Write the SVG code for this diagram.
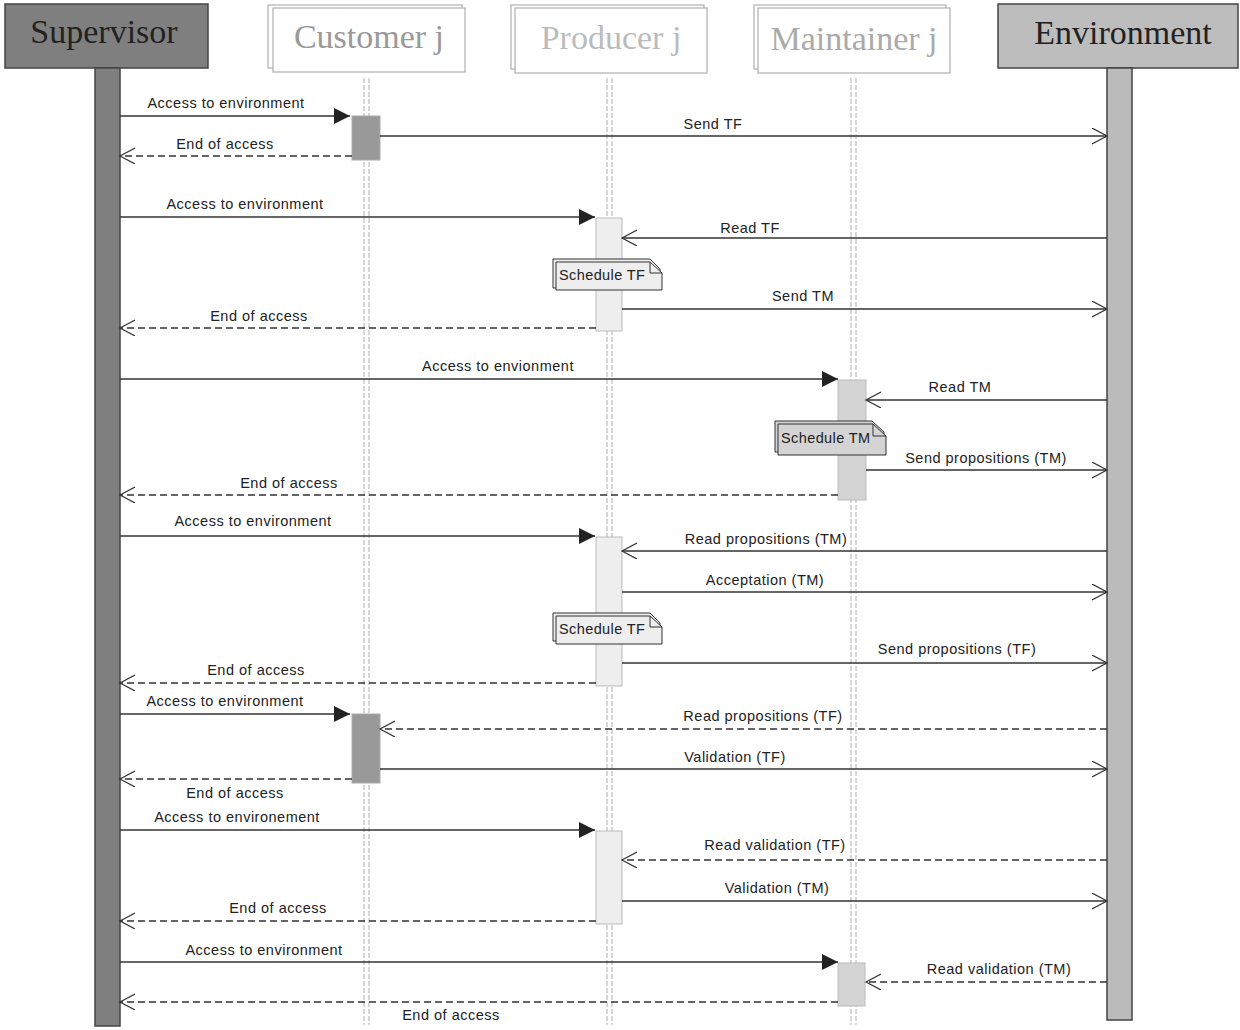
<svg xmlns="http://www.w3.org/2000/svg" width="1240" height="1030" viewBox="0 0 1240 1030">
<style>
.hdr{font-family:"Liberation Serif","Times New Roman",serif;font-size:34px;text-anchor:middle}
.lbl{font-family:"Liberation Sans",Arial,sans-serif;font-size:14.5px;fill:#222;text-anchor:middle;letter-spacing:0.5px}
.note{font-family:"Liberation Sans",Arial,sans-serif;font-size:14.5px;fill:#222;letter-spacing:0.4px}
.msg{stroke:#333;stroke-width:1.3;fill:none}
.ret{stroke:#333;stroke-width:1.3;fill:none;stroke-dasharray:7,4}
.life{stroke:#bdbdbd;stroke-width:1.2;stroke-dasharray:5,2}
.stk{fill:#fff;stroke:#b0b0b0;stroke-width:1.2}
</style>
<defs>
<marker id="sync" markerUnits="userSpaceOnUse" markerWidth="18" markerHeight="18" refX="16" refY="8" orient="auto"><path d="M0,0 L16,8 L0,16 z" fill="#222"/></marker>
<marker id="open" markerUnits="userSpaceOnUse" markerWidth="18" markerHeight="18" refX="15" refY="8" orient="auto"><path d="M0,0 L15,8 L0,16" fill="none" stroke="#333" stroke-width="1.2"/></marker>
</defs>

<g id="lifelines">
<line class="life" x1="364" y1="78" x2="364" y2="1025"/><line class="life" x1="369" y1="78" x2="369" y2="1025"/>
<line class="life" x1="607" y1="78" x2="607" y2="1025"/><line class="life" x1="612" y1="78" x2="612" y2="1025"/>
<line class="life" x1="851" y1="78" x2="851" y2="1025"/><line class="life" x1="856" y1="78" x2="856" y2="1025"/>
</g>

<g id="supervisor">
<rect x="5" y="4" width="203" height="64" fill="#7f7f7f" stroke="#444" stroke-width="1.5"/>
<text class="hdr" x="104" y="43" fill="#222">Supervisor</text>
<rect x="95" y="68" width="25" height="958" fill="#7f7f7f" stroke="#444" stroke-width="1.5"/>
</g>
<g id="customer">
<rect class="stk" x="268" y="5" width="194" height="63"/>
<rect class="stk" x="273" y="8" width="192" height="64"/>
<text class="hdr" x="369" y="48" fill="#999">Customer j</text>
</g>
<g id="producer">
<rect class="stk" x="511" y="5" width="193" height="64"/>
<rect class="stk" x="515" y="8" width="192" height="65"/>
<text class="hdr" x="611" y="49" fill="#bbb">Producer j</text>
</g>
<g id="maintainer">
<rect class="stk" x="754" y="5" width="192" height="64"/>
<rect class="stk" x="758" y="8" width="192" height="65"/>
<text class="hdr" x="854" y="50" fill="#aaa">Maintainer j</text>
</g>
<g id="environment">
<rect x="998" y="4" width="240" height="64" fill="#bdbdbd" stroke="#444" stroke-width="1.5"/>
<text class="hdr" x="1123" y="44" fill="#222">Environment</text>
<rect x="1107" y="68" width="25" height="952" fill="#bbbbbb" stroke="#444" stroke-width="1.5"/>
</g>

<g id="activations">
<rect x="352" y="116" width="28" height="44" fill="#999" stroke="#aaa"/>
<rect x="596" y="218" width="26" height="113" fill="#eee" stroke="#bbb"/>
<rect x="838" y="380" width="28" height="120" fill="#d4d4d4" stroke="#bbb"/>
<rect x="596" y="537" width="26" height="149" fill="#eee" stroke="#bbb"/>
<rect x="352" y="714" width="28" height="69" fill="#999" stroke="#aaa"/>
<rect x="596" y="831" width="26" height="93" fill="#eee" stroke="#bbb"/>
<rect x="838" y="963" width="27" height="43" fill="#d4d4d4" stroke="#bbb"/>
</g>

<g id="notes">
<g id="note1">
<path d="M553,259 H650 L660,269 V288 H553 z" fill="#eee" stroke="#333"/>
<path d="M556,262 H650 L662,273 V290 H556 z" fill="#eee" stroke="#333"/>
<path d="M650,262 V273 H662" fill="none" stroke="#333"/>
<text class="note" x="559" y="280">Schedule TF</text>
</g>
<g id="note2">
<path d="M775,421 H872 L884,432 V452 H775 z" fill="#d4d4d4" stroke="#333"/>
<path d="M778,424 H873 L886,436 V455 H778 z" fill="#d4d4d4" stroke="#333"/>
<path d="M873,424 V436 H886" fill="none" stroke="#333"/>
<text class="note" x="781" y="443">Schedule TM</text>
</g>
<g id="note3">
<path d="M553,613 H650 L660,623 V641 H553 z" fill="#eee" stroke="#333"/>
<path d="M556,616 H650 L662,627 V644 H556 z" fill="#eee" stroke="#333"/>
<path d="M650,616 V627 H662" fill="none" stroke="#333"/>
<text class="note" x="559" y="634">Schedule TF</text>
</g>
</g>

<g id="connectors">
<line class="msg" x1="120" y1="116" x2="350" y2="116" marker-end="url(#sync)"/>
<line class="msg" x1="380" y1="136" x2="1107" y2="136" marker-end="url(#open)"/>
<line class="ret" x1="352" y1="156" x2="120" y2="156" marker-end="url(#open)"/>
<line class="msg" x1="120" y1="217" x2="595" y2="217" marker-end="url(#sync)"/>
<line class="msg" x1="1107" y1="238" x2="622" y2="238" marker-end="url(#open)"/>
<line class="msg" x1="622" y1="309" x2="1107" y2="309" marker-end="url(#open)"/>
<line class="ret" x1="596" y1="328" x2="120" y2="328" marker-end="url(#open)"/>
<line class="msg" x1="120" y1="379" x2="838" y2="379" marker-end="url(#sync)"/>
<line class="msg" x1="1107" y1="400" x2="866" y2="400" marker-end="url(#open)"/>
<line class="msg" x1="866" y1="470" x2="1107" y2="470" marker-end="url(#open)"/>
<line class="ret" x1="838" y1="495" x2="120" y2="495" marker-end="url(#open)"/>
<line class="msg" x1="120" y1="536" x2="595" y2="536" marker-end="url(#sync)"/>
<line class="msg" x1="1107" y1="551" x2="622" y2="551" marker-end="url(#open)"/>
<line class="msg" x1="622" y1="592" x2="1107" y2="592" marker-end="url(#open)"/>
<line class="msg" x1="622" y1="663" x2="1107" y2="663" marker-end="url(#open)"/>
<line class="ret" x1="596" y1="683" x2="120" y2="683" marker-end="url(#open)"/>
<line class="msg" x1="120" y1="714" x2="350" y2="714" marker-end="url(#sync)"/>
<line class="ret" x1="1107" y1="729" x2="380" y2="729" marker-end="url(#open)"/>
<line class="msg" x1="380" y1="769" x2="1107" y2="769" marker-end="url(#open)"/>
<line class="ret" x1="352" y1="779" x2="120" y2="779" marker-end="url(#open)"/>
<line class="msg" x1="120" y1="830" x2="595" y2="830" marker-end="url(#sync)"/>
<line class="ret" x1="1107" y1="860" x2="622" y2="860" marker-end="url(#open)"/>
<line class="msg" x1="622" y1="901" x2="1107" y2="901" marker-end="url(#open)"/>
<line class="ret" x1="596" y1="921" x2="120" y2="921" marker-end="url(#open)"/>
<line class="msg" x1="120" y1="962" x2="838" y2="962" marker-end="url(#sync)"/>
<line class="ret" x1="1107" y1="982" x2="866" y2="982" marker-end="url(#open)"/>
<line class="ret" x1="838" y1="1002" x2="120" y2="1002" marker-end="url(#open)"/>
</g>

<g id="labels">
<text class="lbl" x="226" y="108">Access to environment</text>
<text class="lbl" x="713" y="129">Send TF</text>
<text class="lbl" x="225" y="149">End of access</text>
<text class="lbl" x="245" y="209">Access to environment</text>
<text class="lbl" x="750" y="233">Read TF</text>
<text class="lbl" x="803" y="301">Send TM</text>
<text class="lbl" x="259" y="321">End of access</text>
<text class="lbl" x="498" y="371">Access to envionment</text>
<text class="lbl" x="960" y="392">Read TM</text>
<text class="lbl" x="986" y="463">Send propositions (TM)</text>
<text class="lbl" x="289" y="488">End of access</text>
<text class="lbl" x="253" y="526">Access to environment</text>
<text class="lbl" x="766" y="544">Read propositions (TM)</text>
<text class="lbl" x="765" y="585">Acceptation (TM)</text>
<text class="lbl" x="957" y="654">Send propositions (TF)</text>
<text class="lbl" x="256" y="675">End of access</text>
<text class="lbl" x="225" y="706">Access to environment</text>
<text class="lbl" x="763" y="721">Read propositions (TF)</text>
<text class="lbl" x="735" y="762">Validation (TF)</text>
<text class="lbl" x="235" y="798">End of access</text>
<text class="lbl" x="237" y="822">Access to environement</text>
<text class="lbl" x="775" y="850">Read validation (TF)</text>
<text class="lbl" x="777" y="893">Validation (TM)</text>
<text class="lbl" x="278" y="913">End of access</text>
<text class="lbl" x="264" y="955">Access to environment</text>
<text class="lbl" x="999" y="974">Read validation (TM)</text>
<text class="lbl" x="451" y="1020">End of access</text>
</g>
</svg>
